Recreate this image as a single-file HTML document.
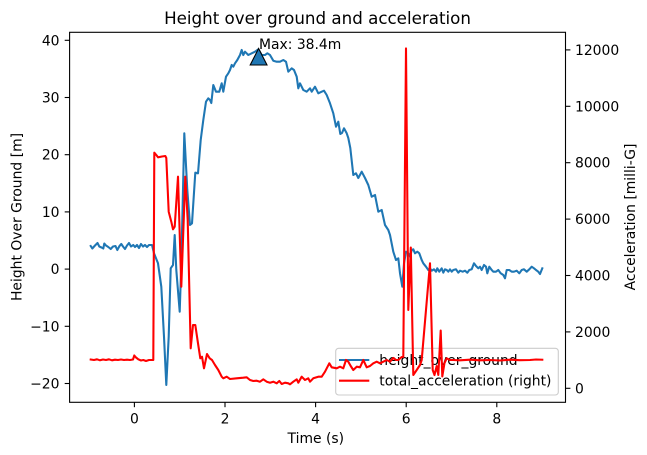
<!DOCTYPE html>
<html><head><meta charset="utf-8"><style>
html,body{margin:0;padding:0;background:#fff;}
svg{display:block;}
text{font-family:"DejaVu Sans","Liberation Sans",sans-serif;fill:#000;}
</style></head><body>
<svg width="647" height="455" viewBox="0 0 647 455" xmlns="http://www.w3.org/2000/svg">
<rect x="0" y="0" width="647" height="455" fill="#fff"/>
<text x="317.5" y="24" font-size="16.7" text-anchor="middle">Height over ground and acceleration</text>

<!-- blue height line -->
<polyline fill="none" stroke="#1f77b4" stroke-width="2.08" stroke-linejoin="round" stroke-linecap="square" points="90.7,246 92.3,248.5 95,245.5 97.5,243 99.3,246.5 101.5,247.5 103.3,248.5 104.3,243.5 106,245.5 108.3,247 110.7,249 113,246.5 115.5,246 117.3,250 119.5,246 121.3,244 123,246.5 125,249 127,245.5 129,243 131,246.5 133.3,245 135,247 137,245 139,248 141,244 143,246.5 145,245 147,247 149,245 152,245 154,253.3 158,263.3 161.3,286.7 164,336.7 166.3,385 168.7,336.7 170.7,268.3 173,265 174.7,235 176.3,270 179.7,311.7 181.3,263.3 184.3,133.3 187.3,190 190,225 192,223.3 195.3,172.7 198,173.3 200.7,140 203.3,120 206,101.7 208.3,98.3 210,100 211.3,103 213.3,85 216,91.7 219.3,91.7 221.7,83.3 223.3,91.7 226,76.7 228.3,73.3 230,70 231.7,65 233.3,66.7 235,63.3 237.3,60 240,55 241.7,50 243.3,55 245,51.7 248.3,55 251.7,53.3 255,51.7 258.3,49.3 261.7,55 265,55 267.3,53.3 270,55 273.3,60.7 276.7,61.7 280,61.7 283.3,60 286,61.7 288.3,71.7 291.7,68.3 294,70 296.7,76.7 298.3,88.3 300,83.3 303.3,90 306.7,91.7 310,88.3 311.7,91.7 315,86.7 318.3,93.3 321.7,91.7 324,90.7 326.7,95 330,103.3 333.3,113.3 336,126.7 338.3,121.7 340.3,134 342,133 344,128.3 346.7,133.3 348.3,138 350.3,148 353.3,175 356,173.3 358.3,178 361.7,171.7 365,178 368.3,185 371.7,196.7 375,195 378.3,211.7 381.7,210 385,225 388.3,230 390,235 393.3,251.7 396,260 398.3,258.3 400,273.3 402.3,286.7 404,263.3 406,251.7 408.3,253.3 410,256.7 411.7,250 413.3,249.3 415,253.3 417.3,251.7 419.3,253.3 421.7,260 423.3,263.3 426,266.7 428.3,270 430,268.3 431.7,270.7 434,269.3 436,271.7 437.3,268.3 439.3,271.7 441.7,268.3 443.3,272.7 445,269.3 446.7,270 448.3,271.7 450,269.3 451.7,271.7 453.3,270 456,269.3 458.3,272.7 460,270.7 462.7,271.7 465,270.7 467.3,272.7 469.3,270 471.7,269.3 474,263.3 476,266 478.3,268.3 480,266.7 481.7,270 484,265 486,266.7 487.3,273.3 489.3,266.7 491.7,270 493.3,271.7 496,271.7 498.3,270 500.7,273.3 503.3,275 505,278.3 506.7,270 509.3,270 511.7,271.7 514,271.7 516.7,270.7 519.3,273.3 521.7,270 524,269.3 526.7,271.7 529.3,269.3 531.7,266.7 534,268.3 536,270 538.3,271.7 540,274 542.3,268.3"/>

<!-- max marker -->
<polygon points="258.6,48.5 250.2,65 267,65" fill="#1f77b4" stroke="#000" stroke-width="1.1" stroke-linejoin="miter"/>
<text x="259" y="49" font-size="13.9">Max: 38.4m</text>

<!-- legend (belongs to left axes, under red line) -->
<rect x="335.7" y="348.3" width="222.6" height="46.7" rx="3" ry="3" fill="#fff" fill-opacity="0.8" stroke="#cccccc" stroke-width="1.1"/>
<line x1="339" y1="360" x2="369.3" y2="360" stroke="#1f77b4" stroke-width="2.08"/>
<text x="379.3" y="365" font-size="13.9">height_over_ground</text>
<line x1="339" y1="380.7" x2="369.3" y2="380.7" stroke="#ff0000" stroke-width="2.08"/>
<text x="379.3" y="385.7" font-size="13.9">total_acceleration (right)</text>

<!-- red acceleration line -->
<polyline fill="none" stroke="#ff0000" stroke-width="2.08" stroke-linejoin="round" stroke-linecap="square" points="90.7,359.5 94,360 97,359.3 100,360.3 103,359.5 106,360 109,359.3 112,360.3 115,359.7 118,360 121,359.5 124,360 127,359.7 130,360 133,359.5 134.3,355.5 136,357.5 138.3,359.3 141,360.5 143.3,360 146,361 149,360 152,360 153.3,360 154.3,152.7 156.3,155 158,157.3 162,156.5 165.3,156 166.3,158 168.7,211.7 171.3,221.7 173,229.3 174.7,226.7 178,176.7 181.3,286.7 185.3,176.7 187.7,220 190.7,348.3 193,325 195.3,325 198,343.3 200.3,358.3 202,356.7 204,368.3 207,354 209.7,358.3 212,360 215,365 218.3,370 221.7,376.7 223.3,378.3 226.7,376.7 230,379 236.7,378.3 243.3,377.7 246.7,377.3 250,380 253.3,381 256.7,380.7 260,381.7 263.3,379.3 266.7,381.7 270,382.7 273.3,381.7 276.7,383.3 279.3,381 281.7,384 285,382.7 288.3,383.3 290,384.3 293.3,381.7 296.7,379.3 298.3,382.7 301.7,376.7 305,380 308.3,378.3 310,381.7 313.3,378.3 318.3,376.7 321.7,376.7 325,371.7 329.3,363.3 331.7,367.3 336.7,368.3 340,366.7 343.3,368.3 346,360 348.3,361.7 350.7,366 353.3,370 356.7,366.7 360,367.3 363.3,360 366.7,367.3 370,366 373.3,363.3 376.7,361.7 380,363.3 383.3,361.7 386.7,360 390,361.7 393.3,358 396,360 398.3,360 401.7,357 403.3,357 406,48.4 408.3,310 410.8,247.5 413.3,375 416.7,370 420,365 421.7,360 430,263.3 432.7,370 434.5,375 436.7,366 438.3,375 440.7,330.5 442.3,376.5 444.5,363 446.7,358.3 450,360 453.3,360 460,360.3 470,359.7 480,360.3 490,360 500,360.5 510,359.7 520,360.2 530,360 536,359.5 542.3,359.7"/>

<!-- axes frame -->
<rect x="69.6" y="32.3" width="495.9" height="370" fill="none" stroke="#000" stroke-width="1.1"/>

<!-- x ticks -->
<g stroke="#000" stroke-width="1.1">
<line x1="134.4" y1="402.3" x2="134.4" y2="407.2"/>
<line x1="225" y1="402.3" x2="225" y2="407.2"/>
<line x1="315.6" y1="402.3" x2="315.6" y2="407.2"/>
<line x1="406.2" y1="402.3" x2="406.2" y2="407.2"/>
<line x1="496.8" y1="402.3" x2="496.8" y2="407.2"/>
</g>
<g font-size="13.9" text-anchor="middle">
<text x="134.4" y="423.3">0</text>
<text x="225" y="423.3">2</text>
<text x="315.6" y="423.3">4</text>
<text x="406.2" y="423.3">6</text>
<text x="496.8" y="423.3">8</text>
</g>
<text x="315.8" y="443" font-size="13.9" text-anchor="middle">Time (s)</text>

<!-- left y ticks -->
<g stroke="#000" stroke-width="1.1">
<line x1="64.7" y1="40.3" x2="69.6" y2="40.3"/>
<line x1="64.7" y1="97.5" x2="69.6" y2="97.5"/>
<line x1="64.7" y1="154.7" x2="69.6" y2="154.7"/>
<line x1="64.7" y1="211.9" x2="69.6" y2="211.9"/>
<line x1="64.7" y1="269.1" x2="69.6" y2="269.1"/>
<line x1="64.7" y1="326.3" x2="69.6" y2="326.3"/>
<line x1="64.7" y1="383.5" x2="69.6" y2="383.5"/>
</g>
<g font-size="13.9" text-anchor="end">
<text x="59.5" y="45.3">40</text>
<text x="59.5" y="102.5">30</text>
<text x="59.5" y="159.7">20</text>
<text x="59.5" y="216.9">10</text>
<text x="59.5" y="274.1">0</text>
<text x="59.5" y="331.3">−10</text>
<text x="59.5" y="388.5">−20</text>
</g>
<text transform="translate(21.3,217) rotate(-90)" font-size="13.9" text-anchor="middle">Height Over Ground [m]</text>

<!-- right y ticks -->
<g stroke="#000" stroke-width="1.1">
<line x1="565.5" y1="388.3" x2="570.4" y2="388.3"/>
<line x1="565.5" y1="331.9" x2="570.4" y2="331.9"/>
<line x1="565.5" y1="275.5" x2="570.4" y2="275.5"/>
<line x1="565.5" y1="219.1" x2="570.4" y2="219.1"/>
<line x1="565.5" y1="162.7" x2="570.4" y2="162.7"/>
<line x1="565.5" y1="106.3" x2="570.4" y2="106.3"/>
<line x1="565.5" y1="49.9" x2="570.4" y2="49.9"/>
</g>
<g font-size="13.9" text-anchor="start">
<text x="575" y="393.3">0</text>
<text x="575" y="336.9">2000</text>
<text x="575" y="280.5">4000</text>
<text x="575" y="224.1">6000</text>
<text x="575" y="167.7">8000</text>
<text x="575" y="111.3">10000</text>
<text x="575" y="54.9">12000</text>
</g>
<text transform="translate(635,217) rotate(-90)" font-size="13.9" text-anchor="middle">Acceleration [milli-G]</text>
</svg>
</body></html>
